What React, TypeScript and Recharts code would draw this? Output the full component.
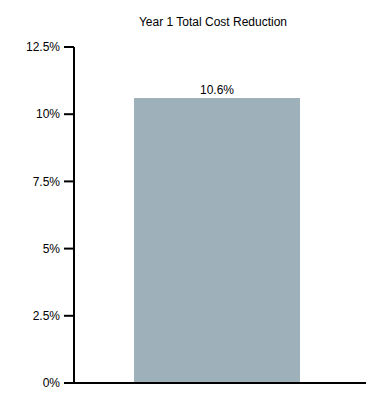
import React from 'react';
import { BarChart, Bar, XAxis, YAxis, LabelList } from 'recharts';

const categories = ['Year 1'];
const reductionValues = [10.6];
const yTicks = [0, 2.5, 5, 7.5, 10, 12.5];

const chartData = categories.map((name, i) => ({ name, value: reductionValues[i] }));

const fmtPct = (v: number) => `${v}%`;

const App: React.FC = () => {
  return (
    <div style={{ position: 'absolute', left: 0, top: 0, width: 388, height: 400, background: '#fff', fontFamily: 'Liberation Sans, Arial, sans-serif' }}>
      <div style={{ position: 'absolute', left: 0, width: 426, top: 15, textAlign: 'center', fontSize: 12, color: '#000' }}>
        Year 1 Total Cost Reduction
      </div>
      <BarChart width={388} height={400} data={chartData} margin={{ top: 47, right: 22, left: 0, bottom: 7 }}>
        <XAxis
          dataKey="name"
          height={10}
          tick={false}
          tickLine={false}
          axisLine={{ stroke: '#000', strokeWidth: 2 }}
          padding={{ left: 0, right: 7 }}
        />
        <YAxis
          width={74}
          domain={[0, 12.5]}
          ticks={yTicks}
          tickFormatter={fmtPct}
          tickSize={10}
          tickMargin={4}
          axisLine={{ stroke: '#000', strokeWidth: 2 }}
          tickLine={{ stroke: '#000', strokeWidth: 2 }}
          tick={{ fill: '#000', fontSize: 12 }}
          interval={0}
        />
        <Bar dataKey="value" fill="#9eb1bb" barSize={166} isAnimationActive={false}>
          <LabelList dataKey="value" position="top" offset={4} formatter={(v: any) => `${v}%`} fill="#000" fontSize={12} />
        </Bar>
      </BarChart>
    </div>
  );
};

export default App;
